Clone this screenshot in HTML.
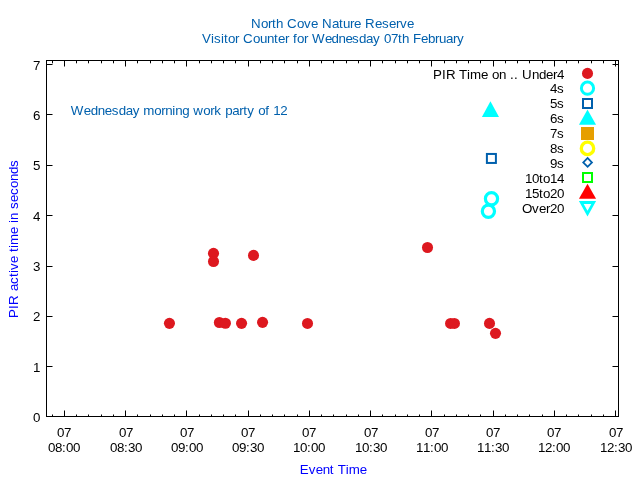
<!DOCTYPE html>
<html><head><meta charset="utf-8"><style>
html,body{margin:0;padding:0;background:#fff;width:640px;height:480px;overflow:hidden}
svg{display:block;will-change:transform}
text{font-family:"Liberation Sans",sans-serif;font-size:13.333px}
</style></head><body>
<svg width="640" height="480" viewBox="0 0 640 480">
<rect x="0" y="0" width="640" height="480" fill="#fff"/>
<g>
<rect x="46" y="60" width="573" height="1" fill="#000" shape-rendering="crispEdges"/>
<rect x="46" y="416" width="573" height="1" fill="#000" shape-rendering="crispEdges"/>
<rect x="46" y="60" width="1" height="357" fill="#000" shape-rendering="crispEdges"/>
<rect x="618" y="60" width="1" height="357" fill="#000" shape-rendering="crispEdges"/>
<rect x="47" y="416" width="5" height="1" fill="#000" shape-rendering="crispEdges"/>
<rect x="52" y="416" width="1" height="1" fill="#000" fill-opacity="0.5" shape-rendering="crispEdges"/>
<rect x="613" y="416" width="5" height="1" fill="#000" shape-rendering="crispEdges"/>
<rect x="612" y="416" width="1" height="1" fill="#000" fill-opacity="0.5" shape-rendering="crispEdges"/>
<text x="33" y="422" fill="#000">0</text>
<rect x="47" y="366" width="5" height="1" fill="#000" shape-rendering="crispEdges"/>
<rect x="52" y="366" width="1" height="1" fill="#000" fill-opacity="0.5" shape-rendering="crispEdges"/>
<rect x="613" y="366" width="5" height="1" fill="#000" shape-rendering="crispEdges"/>
<rect x="612" y="366" width="1" height="1" fill="#000" fill-opacity="0.5" shape-rendering="crispEdges"/>
<text x="33" y="372" fill="#000">1</text>
<rect x="47" y="316" width="5" height="1" fill="#000" shape-rendering="crispEdges"/>
<rect x="52" y="316" width="1" height="1" fill="#000" fill-opacity="0.5" shape-rendering="crispEdges"/>
<rect x="613" y="316" width="5" height="1" fill="#000" shape-rendering="crispEdges"/>
<rect x="612" y="316" width="1" height="1" fill="#000" fill-opacity="0.5" shape-rendering="crispEdges"/>
<text x="33" y="321" fill="#000">2</text>
<rect x="47" y="266" width="5" height="1" fill="#000" shape-rendering="crispEdges"/>
<rect x="52" y="266" width="1" height="1" fill="#000" fill-opacity="0.5" shape-rendering="crispEdges"/>
<rect x="613" y="266" width="5" height="1" fill="#000" shape-rendering="crispEdges"/>
<rect x="612" y="266" width="1" height="1" fill="#000" fill-opacity="0.5" shape-rendering="crispEdges"/>
<text x="33" y="271" fill="#000">3</text>
<rect x="47" y="215" width="5" height="1" fill="#000" shape-rendering="crispEdges"/>
<rect x="52" y="215" width="1" height="1" fill="#000" fill-opacity="0.5" shape-rendering="crispEdges"/>
<rect x="613" y="215" width="5" height="1" fill="#000" shape-rendering="crispEdges"/>
<rect x="612" y="215" width="1" height="1" fill="#000" fill-opacity="0.5" shape-rendering="crispEdges"/>
<text x="33" y="221" fill="#000">4</text>
<rect x="47" y="165" width="5" height="1" fill="#000" shape-rendering="crispEdges"/>
<rect x="52" y="165" width="1" height="1" fill="#000" fill-opacity="0.5" shape-rendering="crispEdges"/>
<rect x="613" y="165" width="5" height="1" fill="#000" shape-rendering="crispEdges"/>
<rect x="612" y="165" width="1" height="1" fill="#000" fill-opacity="0.5" shape-rendering="crispEdges"/>
<text x="33" y="170" fill="#000">5</text>
<rect x="47" y="114" width="5" height="1" fill="#000" shape-rendering="crispEdges"/>
<rect x="52" y="114" width="1" height="1" fill="#000" fill-opacity="0.5" shape-rendering="crispEdges"/>
<rect x="613" y="114" width="5" height="1" fill="#000" shape-rendering="crispEdges"/>
<rect x="612" y="114" width="1" height="1" fill="#000" fill-opacity="0.5" shape-rendering="crispEdges"/>
<text x="33" y="120" fill="#000">6</text>
<rect x="47" y="64" width="5" height="1" fill="#000" shape-rendering="crispEdges"/>
<rect x="52" y="64" width="1" height="1" fill="#000" fill-opacity="0.5" shape-rendering="crispEdges"/>
<rect x="613" y="64" width="5" height="1" fill="#000" shape-rendering="crispEdges"/>
<rect x="612" y="64" width="1" height="1" fill="#000" fill-opacity="0.5" shape-rendering="crispEdges"/>
<text x="33" y="70" fill="#000">7</text>
<rect x="52" y="415" width="1" height="1" fill="#000" shape-rendering="crispEdges"/>
<rect x="52" y="414" width="1" height="1" fill="#000" fill-opacity="0.5" shape-rendering="crispEdges"/>
<rect x="52" y="61" width="1" height="2" fill="#000" shape-rendering="crispEdges"/>
<rect x="52" y="63" width="1" height="1" fill="#000" fill-opacity="0.3" shape-rendering="crispEdges"/>
<rect x="64" y="411" width="1" height="5" fill="#000" shape-rendering="crispEdges"/>
<rect x="64" y="410" width="1" height="1" fill="#000" fill-opacity="0.5" shape-rendering="crispEdges"/>
<rect x="64" y="61" width="1" height="5" fill="#000" shape-rendering="crispEdges"/>
<rect x="64" y="66" width="1" height="1" fill="#000" fill-opacity="0.5" shape-rendering="crispEdges"/>
<rect x="76" y="415" width="1" height="1" fill="#000" shape-rendering="crispEdges"/>
<rect x="76" y="414" width="1" height="1" fill="#000" fill-opacity="0.5" shape-rendering="crispEdges"/>
<rect x="76" y="61" width="1" height="2" fill="#000" shape-rendering="crispEdges"/>
<rect x="76" y="63" width="1" height="1" fill="#000" fill-opacity="0.3" shape-rendering="crispEdges"/>
<rect x="88" y="415" width="1" height="1" fill="#000" shape-rendering="crispEdges"/>
<rect x="88" y="414" width="1" height="1" fill="#000" fill-opacity="0.5" shape-rendering="crispEdges"/>
<rect x="88" y="61" width="1" height="2" fill="#000" shape-rendering="crispEdges"/>
<rect x="88" y="63" width="1" height="1" fill="#000" fill-opacity="0.3" shape-rendering="crispEdges"/>
<rect x="101" y="415" width="1" height="1" fill="#000" shape-rendering="crispEdges"/>
<rect x="101" y="414" width="1" height="1" fill="#000" fill-opacity="0.5" shape-rendering="crispEdges"/>
<rect x="101" y="61" width="1" height="2" fill="#000" shape-rendering="crispEdges"/>
<rect x="101" y="63" width="1" height="1" fill="#000" fill-opacity="0.3" shape-rendering="crispEdges"/>
<rect x="113" y="415" width="1" height="1" fill="#000" shape-rendering="crispEdges"/>
<rect x="113" y="414" width="1" height="1" fill="#000" fill-opacity="0.5" shape-rendering="crispEdges"/>
<rect x="113" y="61" width="1" height="2" fill="#000" shape-rendering="crispEdges"/>
<rect x="113" y="63" width="1" height="1" fill="#000" fill-opacity="0.3" shape-rendering="crispEdges"/>
<rect x="125" y="411" width="1" height="5" fill="#000" shape-rendering="crispEdges"/>
<rect x="125" y="410" width="1" height="1" fill="#000" fill-opacity="0.5" shape-rendering="crispEdges"/>
<rect x="125" y="61" width="1" height="5" fill="#000" shape-rendering="crispEdges"/>
<rect x="125" y="66" width="1" height="1" fill="#000" fill-opacity="0.5" shape-rendering="crispEdges"/>
<rect x="137" y="415" width="1" height="1" fill="#000" shape-rendering="crispEdges"/>
<rect x="137" y="414" width="1" height="1" fill="#000" fill-opacity="0.5" shape-rendering="crispEdges"/>
<rect x="137" y="61" width="1" height="2" fill="#000" shape-rendering="crispEdges"/>
<rect x="137" y="63" width="1" height="1" fill="#000" fill-opacity="0.3" shape-rendering="crispEdges"/>
<rect x="150" y="415" width="1" height="1" fill="#000" shape-rendering="crispEdges"/>
<rect x="150" y="414" width="1" height="1" fill="#000" fill-opacity="0.5" shape-rendering="crispEdges"/>
<rect x="150" y="61" width="1" height="2" fill="#000" shape-rendering="crispEdges"/>
<rect x="150" y="63" width="1" height="1" fill="#000" fill-opacity="0.3" shape-rendering="crispEdges"/>
<rect x="162" y="415" width="1" height="1" fill="#000" shape-rendering="crispEdges"/>
<rect x="162" y="414" width="1" height="1" fill="#000" fill-opacity="0.5" shape-rendering="crispEdges"/>
<rect x="162" y="61" width="1" height="2" fill="#000" shape-rendering="crispEdges"/>
<rect x="162" y="63" width="1" height="1" fill="#000" fill-opacity="0.3" shape-rendering="crispEdges"/>
<rect x="174" y="415" width="1" height="1" fill="#000" shape-rendering="crispEdges"/>
<rect x="174" y="414" width="1" height="1" fill="#000" fill-opacity="0.5" shape-rendering="crispEdges"/>
<rect x="174" y="61" width="1" height="2" fill="#000" shape-rendering="crispEdges"/>
<rect x="174" y="63" width="1" height="1" fill="#000" fill-opacity="0.3" shape-rendering="crispEdges"/>
<rect x="186" y="411" width="1" height="5" fill="#000" shape-rendering="crispEdges"/>
<rect x="186" y="410" width="1" height="1" fill="#000" fill-opacity="0.5" shape-rendering="crispEdges"/>
<rect x="186" y="61" width="1" height="5" fill="#000" shape-rendering="crispEdges"/>
<rect x="186" y="66" width="1" height="1" fill="#000" fill-opacity="0.5" shape-rendering="crispEdges"/>
<rect x="199" y="415" width="1" height="1" fill="#000" shape-rendering="crispEdges"/>
<rect x="199" y="414" width="1" height="1" fill="#000" fill-opacity="0.5" shape-rendering="crispEdges"/>
<rect x="199" y="61" width="1" height="2" fill="#000" shape-rendering="crispEdges"/>
<rect x="199" y="63" width="1" height="1" fill="#000" fill-opacity="0.3" shape-rendering="crispEdges"/>
<rect x="211" y="415" width="1" height="1" fill="#000" shape-rendering="crispEdges"/>
<rect x="211" y="414" width="1" height="1" fill="#000" fill-opacity="0.5" shape-rendering="crispEdges"/>
<rect x="211" y="61" width="1" height="2" fill="#000" shape-rendering="crispEdges"/>
<rect x="211" y="63" width="1" height="1" fill="#000" fill-opacity="0.3" shape-rendering="crispEdges"/>
<rect x="223" y="415" width="1" height="1" fill="#000" shape-rendering="crispEdges"/>
<rect x="223" y="414" width="1" height="1" fill="#000" fill-opacity="0.5" shape-rendering="crispEdges"/>
<rect x="223" y="61" width="1" height="2" fill="#000" shape-rendering="crispEdges"/>
<rect x="223" y="63" width="1" height="1" fill="#000" fill-opacity="0.3" shape-rendering="crispEdges"/>
<rect x="235" y="415" width="1" height="1" fill="#000" shape-rendering="crispEdges"/>
<rect x="235" y="414" width="1" height="1" fill="#000" fill-opacity="0.5" shape-rendering="crispEdges"/>
<rect x="235" y="61" width="1" height="2" fill="#000" shape-rendering="crispEdges"/>
<rect x="235" y="63" width="1" height="1" fill="#000" fill-opacity="0.3" shape-rendering="crispEdges"/>
<rect x="248" y="411" width="1" height="5" fill="#000" shape-rendering="crispEdges"/>
<rect x="248" y="410" width="1" height="1" fill="#000" fill-opacity="0.5" shape-rendering="crispEdges"/>
<rect x="248" y="61" width="1" height="5" fill="#000" shape-rendering="crispEdges"/>
<rect x="248" y="66" width="1" height="1" fill="#000" fill-opacity="0.5" shape-rendering="crispEdges"/>
<rect x="260" y="415" width="1" height="1" fill="#000" shape-rendering="crispEdges"/>
<rect x="260" y="414" width="1" height="1" fill="#000" fill-opacity="0.5" shape-rendering="crispEdges"/>
<rect x="260" y="61" width="1" height="2" fill="#000" shape-rendering="crispEdges"/>
<rect x="260" y="63" width="1" height="1" fill="#000" fill-opacity="0.3" shape-rendering="crispEdges"/>
<rect x="272" y="415" width="1" height="1" fill="#000" shape-rendering="crispEdges"/>
<rect x="272" y="414" width="1" height="1" fill="#000" fill-opacity="0.5" shape-rendering="crispEdges"/>
<rect x="272" y="61" width="1" height="2" fill="#000" shape-rendering="crispEdges"/>
<rect x="272" y="63" width="1" height="1" fill="#000" fill-opacity="0.3" shape-rendering="crispEdges"/>
<rect x="284" y="415" width="1" height="1" fill="#000" shape-rendering="crispEdges"/>
<rect x="284" y="414" width="1" height="1" fill="#000" fill-opacity="0.5" shape-rendering="crispEdges"/>
<rect x="284" y="61" width="1" height="2" fill="#000" shape-rendering="crispEdges"/>
<rect x="284" y="63" width="1" height="1" fill="#000" fill-opacity="0.3" shape-rendering="crispEdges"/>
<rect x="297" y="415" width="1" height="1" fill="#000" shape-rendering="crispEdges"/>
<rect x="297" y="414" width="1" height="1" fill="#000" fill-opacity="0.5" shape-rendering="crispEdges"/>
<rect x="297" y="61" width="1" height="2" fill="#000" shape-rendering="crispEdges"/>
<rect x="297" y="63" width="1" height="1" fill="#000" fill-opacity="0.3" shape-rendering="crispEdges"/>
<rect x="309" y="411" width="1" height="5" fill="#000" shape-rendering="crispEdges"/>
<rect x="309" y="410" width="1" height="1" fill="#000" fill-opacity="0.5" shape-rendering="crispEdges"/>
<rect x="309" y="61" width="1" height="5" fill="#000" shape-rendering="crispEdges"/>
<rect x="309" y="66" width="1" height="1" fill="#000" fill-opacity="0.5" shape-rendering="crispEdges"/>
<rect x="321" y="415" width="1" height="1" fill="#000" shape-rendering="crispEdges"/>
<rect x="321" y="414" width="1" height="1" fill="#000" fill-opacity="0.5" shape-rendering="crispEdges"/>
<rect x="321" y="61" width="1" height="2" fill="#000" shape-rendering="crispEdges"/>
<rect x="321" y="63" width="1" height="1" fill="#000" fill-opacity="0.3" shape-rendering="crispEdges"/>
<rect x="333" y="415" width="1" height="1" fill="#000" shape-rendering="crispEdges"/>
<rect x="333" y="414" width="1" height="1" fill="#000" fill-opacity="0.5" shape-rendering="crispEdges"/>
<rect x="333" y="61" width="1" height="2" fill="#000" shape-rendering="crispEdges"/>
<rect x="333" y="63" width="1" height="1" fill="#000" fill-opacity="0.3" shape-rendering="crispEdges"/>
<rect x="346" y="415" width="1" height="1" fill="#000" shape-rendering="crispEdges"/>
<rect x="346" y="414" width="1" height="1" fill="#000" fill-opacity="0.5" shape-rendering="crispEdges"/>
<rect x="346" y="61" width="1" height="2" fill="#000" shape-rendering="crispEdges"/>
<rect x="346" y="63" width="1" height="1" fill="#000" fill-opacity="0.3" shape-rendering="crispEdges"/>
<rect x="358" y="415" width="1" height="1" fill="#000" shape-rendering="crispEdges"/>
<rect x="358" y="414" width="1" height="1" fill="#000" fill-opacity="0.5" shape-rendering="crispEdges"/>
<rect x="358" y="61" width="1" height="2" fill="#000" shape-rendering="crispEdges"/>
<rect x="358" y="63" width="1" height="1" fill="#000" fill-opacity="0.3" shape-rendering="crispEdges"/>
<rect x="370" y="411" width="1" height="5" fill="#000" shape-rendering="crispEdges"/>
<rect x="370" y="410" width="1" height="1" fill="#000" fill-opacity="0.5" shape-rendering="crispEdges"/>
<rect x="370" y="61" width="1" height="5" fill="#000" shape-rendering="crispEdges"/>
<rect x="370" y="66" width="1" height="1" fill="#000" fill-opacity="0.5" shape-rendering="crispEdges"/>
<rect x="382" y="415" width="1" height="1" fill="#000" shape-rendering="crispEdges"/>
<rect x="382" y="414" width="1" height="1" fill="#000" fill-opacity="0.5" shape-rendering="crispEdges"/>
<rect x="382" y="61" width="1" height="2" fill="#000" shape-rendering="crispEdges"/>
<rect x="382" y="63" width="1" height="1" fill="#000" fill-opacity="0.3" shape-rendering="crispEdges"/>
<rect x="395" y="415" width="1" height="1" fill="#000" shape-rendering="crispEdges"/>
<rect x="395" y="414" width="1" height="1" fill="#000" fill-opacity="0.5" shape-rendering="crispEdges"/>
<rect x="395" y="61" width="1" height="2" fill="#000" shape-rendering="crispEdges"/>
<rect x="395" y="63" width="1" height="1" fill="#000" fill-opacity="0.3" shape-rendering="crispEdges"/>
<rect x="407" y="415" width="1" height="1" fill="#000" shape-rendering="crispEdges"/>
<rect x="407" y="414" width="1" height="1" fill="#000" fill-opacity="0.5" shape-rendering="crispEdges"/>
<rect x="407" y="61" width="1" height="2" fill="#000" shape-rendering="crispEdges"/>
<rect x="407" y="63" width="1" height="1" fill="#000" fill-opacity="0.3" shape-rendering="crispEdges"/>
<rect x="419" y="415" width="1" height="1" fill="#000" shape-rendering="crispEdges"/>
<rect x="419" y="414" width="1" height="1" fill="#000" fill-opacity="0.5" shape-rendering="crispEdges"/>
<rect x="419" y="61" width="1" height="2" fill="#000" shape-rendering="crispEdges"/>
<rect x="419" y="63" width="1" height="1" fill="#000" fill-opacity="0.3" shape-rendering="crispEdges"/>
<rect x="431" y="411" width="1" height="5" fill="#000" shape-rendering="crispEdges"/>
<rect x="431" y="410" width="1" height="1" fill="#000" fill-opacity="0.5" shape-rendering="crispEdges"/>
<rect x="431" y="61" width="1" height="5" fill="#000" shape-rendering="crispEdges"/>
<rect x="431" y="66" width="1" height="1" fill="#000" fill-opacity="0.5" shape-rendering="crispEdges"/>
<rect x="444" y="415" width="1" height="1" fill="#000" shape-rendering="crispEdges"/>
<rect x="444" y="414" width="1" height="1" fill="#000" fill-opacity="0.5" shape-rendering="crispEdges"/>
<rect x="444" y="61" width="1" height="2" fill="#000" shape-rendering="crispEdges"/>
<rect x="444" y="63" width="1" height="1" fill="#000" fill-opacity="0.3" shape-rendering="crispEdges"/>
<rect x="456" y="415" width="1" height="1" fill="#000" shape-rendering="crispEdges"/>
<rect x="456" y="414" width="1" height="1" fill="#000" fill-opacity="0.5" shape-rendering="crispEdges"/>
<rect x="456" y="61" width="1" height="2" fill="#000" shape-rendering="crispEdges"/>
<rect x="456" y="63" width="1" height="1" fill="#000" fill-opacity="0.3" shape-rendering="crispEdges"/>
<rect x="468" y="415" width="1" height="1" fill="#000" shape-rendering="crispEdges"/>
<rect x="468" y="414" width="1" height="1" fill="#000" fill-opacity="0.5" shape-rendering="crispEdges"/>
<rect x="468" y="61" width="1" height="2" fill="#000" shape-rendering="crispEdges"/>
<rect x="468" y="63" width="1" height="1" fill="#000" fill-opacity="0.3" shape-rendering="crispEdges"/>
<rect x="480" y="415" width="1" height="1" fill="#000" shape-rendering="crispEdges"/>
<rect x="480" y="414" width="1" height="1" fill="#000" fill-opacity="0.5" shape-rendering="crispEdges"/>
<rect x="480" y="61" width="1" height="2" fill="#000" shape-rendering="crispEdges"/>
<rect x="480" y="63" width="1" height="1" fill="#000" fill-opacity="0.3" shape-rendering="crispEdges"/>
<rect x="493" y="411" width="1" height="5" fill="#000" shape-rendering="crispEdges"/>
<rect x="493" y="410" width="1" height="1" fill="#000" fill-opacity="0.5" shape-rendering="crispEdges"/>
<rect x="493" y="61" width="1" height="5" fill="#000" shape-rendering="crispEdges"/>
<rect x="493" y="66" width="1" height="1" fill="#000" fill-opacity="0.5" shape-rendering="crispEdges"/>
<rect x="505" y="415" width="1" height="1" fill="#000" shape-rendering="crispEdges"/>
<rect x="505" y="414" width="1" height="1" fill="#000" fill-opacity="0.5" shape-rendering="crispEdges"/>
<rect x="505" y="61" width="1" height="2" fill="#000" shape-rendering="crispEdges"/>
<rect x="505" y="63" width="1" height="1" fill="#000" fill-opacity="0.3" shape-rendering="crispEdges"/>
<rect x="517" y="415" width="1" height="1" fill="#000" shape-rendering="crispEdges"/>
<rect x="517" y="414" width="1" height="1" fill="#000" fill-opacity="0.5" shape-rendering="crispEdges"/>
<rect x="517" y="61" width="1" height="2" fill="#000" shape-rendering="crispEdges"/>
<rect x="517" y="63" width="1" height="1" fill="#000" fill-opacity="0.3" shape-rendering="crispEdges"/>
<rect x="529" y="415" width="1" height="1" fill="#000" shape-rendering="crispEdges"/>
<rect x="529" y="414" width="1" height="1" fill="#000" fill-opacity="0.5" shape-rendering="crispEdges"/>
<rect x="529" y="61" width="1" height="2" fill="#000" shape-rendering="crispEdges"/>
<rect x="529" y="63" width="1" height="1" fill="#000" fill-opacity="0.3" shape-rendering="crispEdges"/>
<rect x="542" y="415" width="1" height="1" fill="#000" shape-rendering="crispEdges"/>
<rect x="542" y="414" width="1" height="1" fill="#000" fill-opacity="0.5" shape-rendering="crispEdges"/>
<rect x="542" y="61" width="1" height="2" fill="#000" shape-rendering="crispEdges"/>
<rect x="542" y="63" width="1" height="1" fill="#000" fill-opacity="0.3" shape-rendering="crispEdges"/>
<rect x="554" y="411" width="1" height="5" fill="#000" shape-rendering="crispEdges"/>
<rect x="554" y="410" width="1" height="1" fill="#000" fill-opacity="0.5" shape-rendering="crispEdges"/>
<rect x="554" y="61" width="1" height="5" fill="#000" shape-rendering="crispEdges"/>
<rect x="554" y="66" width="1" height="1" fill="#000" fill-opacity="0.5" shape-rendering="crispEdges"/>
<rect x="566" y="415" width="1" height="1" fill="#000" shape-rendering="crispEdges"/>
<rect x="566" y="414" width="1" height="1" fill="#000" fill-opacity="0.5" shape-rendering="crispEdges"/>
<rect x="566" y="61" width="1" height="2" fill="#000" shape-rendering="crispEdges"/>
<rect x="566" y="63" width="1" height="1" fill="#000" fill-opacity="0.3" shape-rendering="crispEdges"/>
<rect x="578" y="415" width="1" height="1" fill="#000" shape-rendering="crispEdges"/>
<rect x="578" y="414" width="1" height="1" fill="#000" fill-opacity="0.5" shape-rendering="crispEdges"/>
<rect x="578" y="61" width="1" height="2" fill="#000" shape-rendering="crispEdges"/>
<rect x="578" y="63" width="1" height="1" fill="#000" fill-opacity="0.3" shape-rendering="crispEdges"/>
<rect x="591" y="415" width="1" height="1" fill="#000" shape-rendering="crispEdges"/>
<rect x="591" y="414" width="1" height="1" fill="#000" fill-opacity="0.5" shape-rendering="crispEdges"/>
<rect x="591" y="61" width="1" height="2" fill="#000" shape-rendering="crispEdges"/>
<rect x="591" y="63" width="1" height="1" fill="#000" fill-opacity="0.3" shape-rendering="crispEdges"/>
<rect x="603" y="415" width="1" height="1" fill="#000" shape-rendering="crispEdges"/>
<rect x="603" y="414" width="1" height="1" fill="#000" fill-opacity="0.5" shape-rendering="crispEdges"/>
<rect x="603" y="61" width="1" height="2" fill="#000" shape-rendering="crispEdges"/>
<rect x="603" y="63" width="1" height="1" fill="#000" fill-opacity="0.3" shape-rendering="crispEdges"/>
<rect x="615" y="411" width="1" height="5" fill="#000" shape-rendering="crispEdges"/>
<rect x="615" y="410" width="1" height="1" fill="#000" fill-opacity="0.5" shape-rendering="crispEdges"/>
<rect x="615" y="61" width="1" height="5" fill="#000" shape-rendering="crispEdges"/>
<rect x="615" y="66" width="1" height="1" fill="#000" fill-opacity="0.5" shape-rendering="crispEdges"/>
<text x="57 64" y="437" fill="#000">07</text>
<text x="48 55 62 66 73" y="452" fill="#000">08:00</text>
<text x="119 126" y="437" fill="#000">07</text>
<text x="110 117 124 128 135" y="452" fill="#000">08:30</text>
<text x="180 187" y="437" fill="#000">07</text>
<text x="171 178 185 189 196" y="452" fill="#000">09:00</text>
<text x="241 248" y="437" fill="#000">07</text>
<text x="232 239 246 250 257" y="452" fill="#000">09:30</text>
<text x="302 309" y="437" fill="#000">07</text>
<text x="293 300 307 311 318" y="452" fill="#000">10:00</text>
<text x="364 371" y="437" fill="#000">07</text>
<text x="355 362 369 373 380" y="452" fill="#000">10:30</text>
<text x="425 432" y="437" fill="#000">07</text>
<text x="416 423 430 434 441" y="452" fill="#000">11:00</text>
<text x="486 493" y="437" fill="#000">07</text>
<text x="477 484 491 495 502" y="452" fill="#000">11:30</text>
<text x="547 554" y="437" fill="#000">07</text>
<text x="538 545 552 556 563" y="452" fill="#000">12:00</text>
<text x="609 616" y="437" fill="#000">07</text>
<text x="600 607 614 618 625" y="452" fill="#000">12:30</text>
<text x="251 261 268 272 276 283 287 297 304 311 318 322 332 339 343 350 354 361 365 375 382 389 396 400 407" y="28" fill="#0060ad">North Cove Nature Reserve</text>
<text x="202 211 214 221 224 228 235 239 243 253 260 267 274 278 285 289 293 297 304 308 312 325 331.5 338.5 345.5 352 359 366 373 380 384 391 398 402 409 413 421 428 435 439 446 453 457" y="43" fill="#0060ad">Visitor Counter for Wednesday 07th February</text>
<text x="70.8 83.8 90.8 97.8 104.8 111.8 118.8 125.8 132.8 139.8 143.2 154.2 161.2 165.2 172.2 175.2 182.2 189.2 193.2 203.2 210.2 214.2 221.2 225.2 232.2 239.2 243.2 247.2 254.2 258.2 265.2 269.2 273.2 280.2" y="115" fill="#0060ad">Wednesday morning work party of 12</text>
<text x="299.8 308.8 315.8 322.8 329.8 333.8 337.8 345.8 348.8 359.8" y="474" fill="#0000ff">Event Time</text>
<text x="0 9 13 23 27 34 41 45 48 55 62 66 70 73 84 91 95 98 105 109 116 123 130 137 144 151" y="0" fill="#0000ff" transform="translate(18 318) rotate(-90)">PIR active time in seconds</text>
<text x="433 442 446 455 459 467 470 481 488 492 499 506 510 514 518 522 532 539 546 553 557" y="79" fill="#000">PIR Time on .. Under4</text>
<text x="550 557" y="93" fill="#000">4s</text>
<text x="550 557" y="108" fill="#000">5s</text>
<text x="550 557" y="123" fill="#000">6s</text>
<text x="550 557" y="138" fill="#000">7s</text>
<text x="550 557" y="153" fill="#000">8s</text>
<text x="550 557" y="168" fill="#000">9s</text>
<text x="525 532 539 543 550 557" y="183" fill="#000">10to14</text>
<text x="525 532 539 543 550 557" y="198" fill="#000">15to20</text>
<text x="522 532 539 546 550 557" y="213" fill="#000">Over20</text>
<circle cx="587.5" cy="73.4" r="5.55" fill="#dd181f"/>
<circle cx="587.5" cy="88.2" r="6.1" fill="none" stroke="#00ffff" stroke-width="3.0"/>
<rect x="583.0" y="99.0" width="9.0" height="9.0" fill="none" stroke="#0060ad" stroke-width="2"/>
<polygon points="587.5,109.5 596.05,124.8 578.95,124.8" fill="#00ffff"/>
<rect x="581.0" y="127.0" width="13" height="13" fill="#e69f00"/>
<circle cx="587.5" cy="148.4" r="6.2" fill="none" stroke="#ffff00" stroke-width="3.3"/>
<path d="M587.6 156.8 L593.2 162.4 L587.6 168.0 L582.0 162.4 Z M587.6 159.3 L584.5 162.4 L587.6 165.5 L590.7 162.4 Z" fill="#0060ad" fill-rule="evenodd"/>
<rect x="583.0" y="173.0" width="9.0" height="9.0" fill="none" stroke="#00ff00" stroke-width="2"/>
<polygon points="587.5,183.7 596.05,198.8 578.95,198.8" fill="#ff0000"/>
<path d="M578.9 201 L596.1 201 L587.5 216.6 Z M583.7 204.1 L587.5 210.8 L591.3 204.1 Z" fill="#00ffff" fill-rule="evenodd"/>
<circle cx="169.45" cy="323.35" r="5.55" fill="#dd181f"/>
<circle cx="213.5" cy="253.3" r="5.55" fill="#dd181f"/>
<circle cx="213.5" cy="261.5" r="5.55" fill="#dd181f"/>
<circle cx="253.5" cy="255.4" r="5.55" fill="#dd181f"/>
<circle cx="219.4" cy="322.5" r="5.55" fill="#dd181f"/>
<circle cx="225.4" cy="323.25" r="5.55" fill="#dd181f"/>
<circle cx="241.55" cy="323.35" r="5.55" fill="#dd181f"/>
<circle cx="262.55" cy="322.35" r="5.55" fill="#dd181f"/>
<circle cx="307.5" cy="323.45" r="5.55" fill="#dd181f"/>
<circle cx="427.5" cy="247.5" r="5.55" fill="#dd181f"/>
<circle cx="450.6" cy="323.45" r="5.55" fill="#dd181f"/>
<circle cx="454.4" cy="323.45" r="5.55" fill="#dd181f"/>
<circle cx="489.5" cy="323.4" r="5.55" fill="#dd181f"/>
<circle cx="495.5" cy="333.35" r="5.55" fill="#dd181f"/>
<polygon points="490.45,101.25 499.0,116.9 481.9,116.9" fill="#00ffff"/>
<rect x="486.9" y="153.95" width="9.0" height="9.0" fill="none" stroke="#0060ad" stroke-width="2"/>
<circle cx="491.5" cy="198.7" r="6.1" fill="none" stroke="#00ffff" stroke-width="3.2"/>
<circle cx="488.4" cy="211.3" r="6.1" fill="none" stroke="#00ffff" stroke-width="3.2"/>
</g>
</svg>
</body></html>
